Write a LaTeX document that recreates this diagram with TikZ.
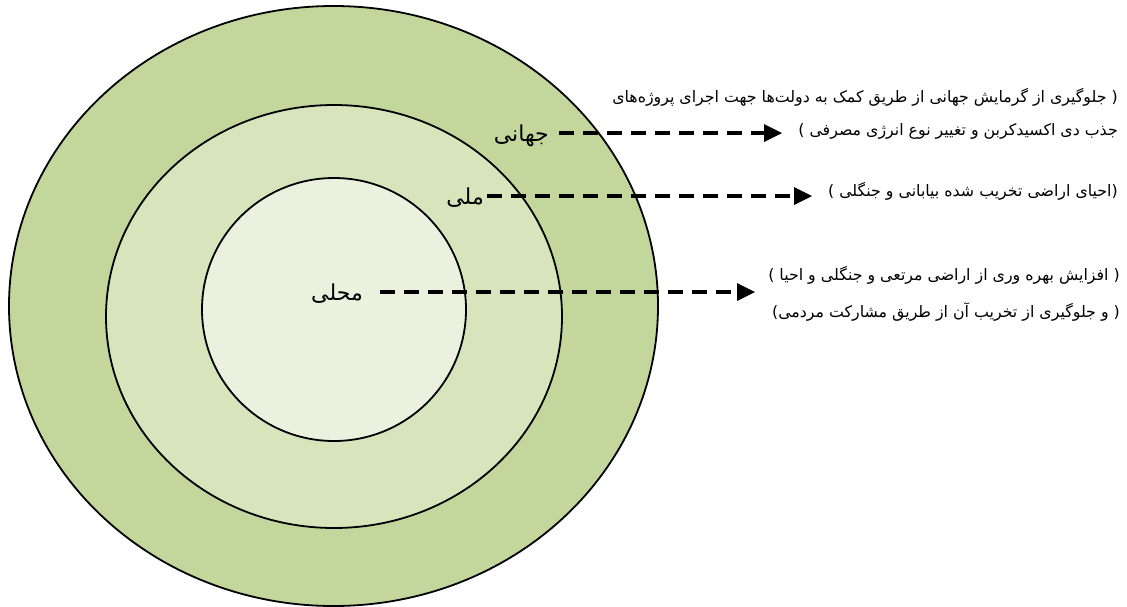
\documentclass[tikz,border=0pt]{standalone}
\usepackage{fontspec}
\newfontfamily\fa[Script=Arabic]{DejaVu Sans}
\TeXXeTstate=1
\usetikzlibrary{arrows.meta}
\definecolor{outerg}{HTML}{C3D69B}
\definecolor{midg}{HTML}{D7E4BC}
\definecolor{innerg}{HTML}{EBF1DE}
\tikzset{
  ring/.style={draw=black, line width=1.8pt},
  lvl/.style={font=\fa\fontsize{22}{26}\selectfont, inner sep=1pt},
  desc/.style={font=\fa\fontsize{15.8}{19}\selectfont, anchor=east, inner sep=0pt},
  dasharrow/.style={line width=3.5pt, dash pattern=on 15pt off 9pt, -{Triangle[length=18pt,width=18pt,line width=0pt]}}
}
\begin{document}
\begin{tikzpicture}[x=1pt,y=-1pt]
\useasboundingbox (0,0) rectangle (1127,606);
\path[ring, fill=outerg] (333.5,306) ellipse [x radius=324.5, y radius=300];
\path[ring, fill=midg] (334,316.5) ellipse [x radius=228, y radius=211.5];
\path[ring, fill=innerg] (334,309.5) ellipse [x radius=132, y radius=131.5];

\node[lvl, anchor=east] (jahani) at (550,136) {\beginR جهانی\endR};
\node[lvl, anchor=east] (melli) at (485,198) {\beginR ملی\endR};
\node[lvl, anchor=east] (mahalli) at (364,294) {\beginR محلی\endR};

\coordinate (ja) at (782,133);
\coordinate (ma) at (812,196);
\coordinate (ha) at (755,292);

\draw[dasharrow] (jahani.east |- ja) ++(9,0) coordinate (js) -- (ja);
\draw[dasharrow] (melli.east |- ma) ++(2,0) coordinate (ms) -- (ma);
\draw[dasharrow] (mahalli.east |- ha) ++(16,0) coordinate (hs) -- (ha);

\node[desc] (t1a) at (1118,97) {{\fa\beginR جلوگیری از گرمایش جهانی از طریق کمک به دولت‌ها جهت اجرای پروژه‌های\endR}\ (};
\node[desc] (t1b) at (1118,131) {)\ {\fa\beginR جذب دی اکسیدکربن و تغییر نوع انرژی مصرفی\endR}};
\node[desc] (t2) at (1118,191) {)\ {\fa\beginR احیای اراضی تخریب شده بیابانی و جنگلی\endR}(};
\node[desc] (t3a) at (1120,275) {)\ {\fa\beginR افزایش بهره وری از اراضی مرتعی و جنگلی و احیا\endR}\ (};
\node[desc] (t3b) at (1120,312) {){\fa\beginR و جلوگیری از تخریب آن از طریق مشارکت مردمی\endR}\ (};
\end{tikzpicture}
\end{document}
